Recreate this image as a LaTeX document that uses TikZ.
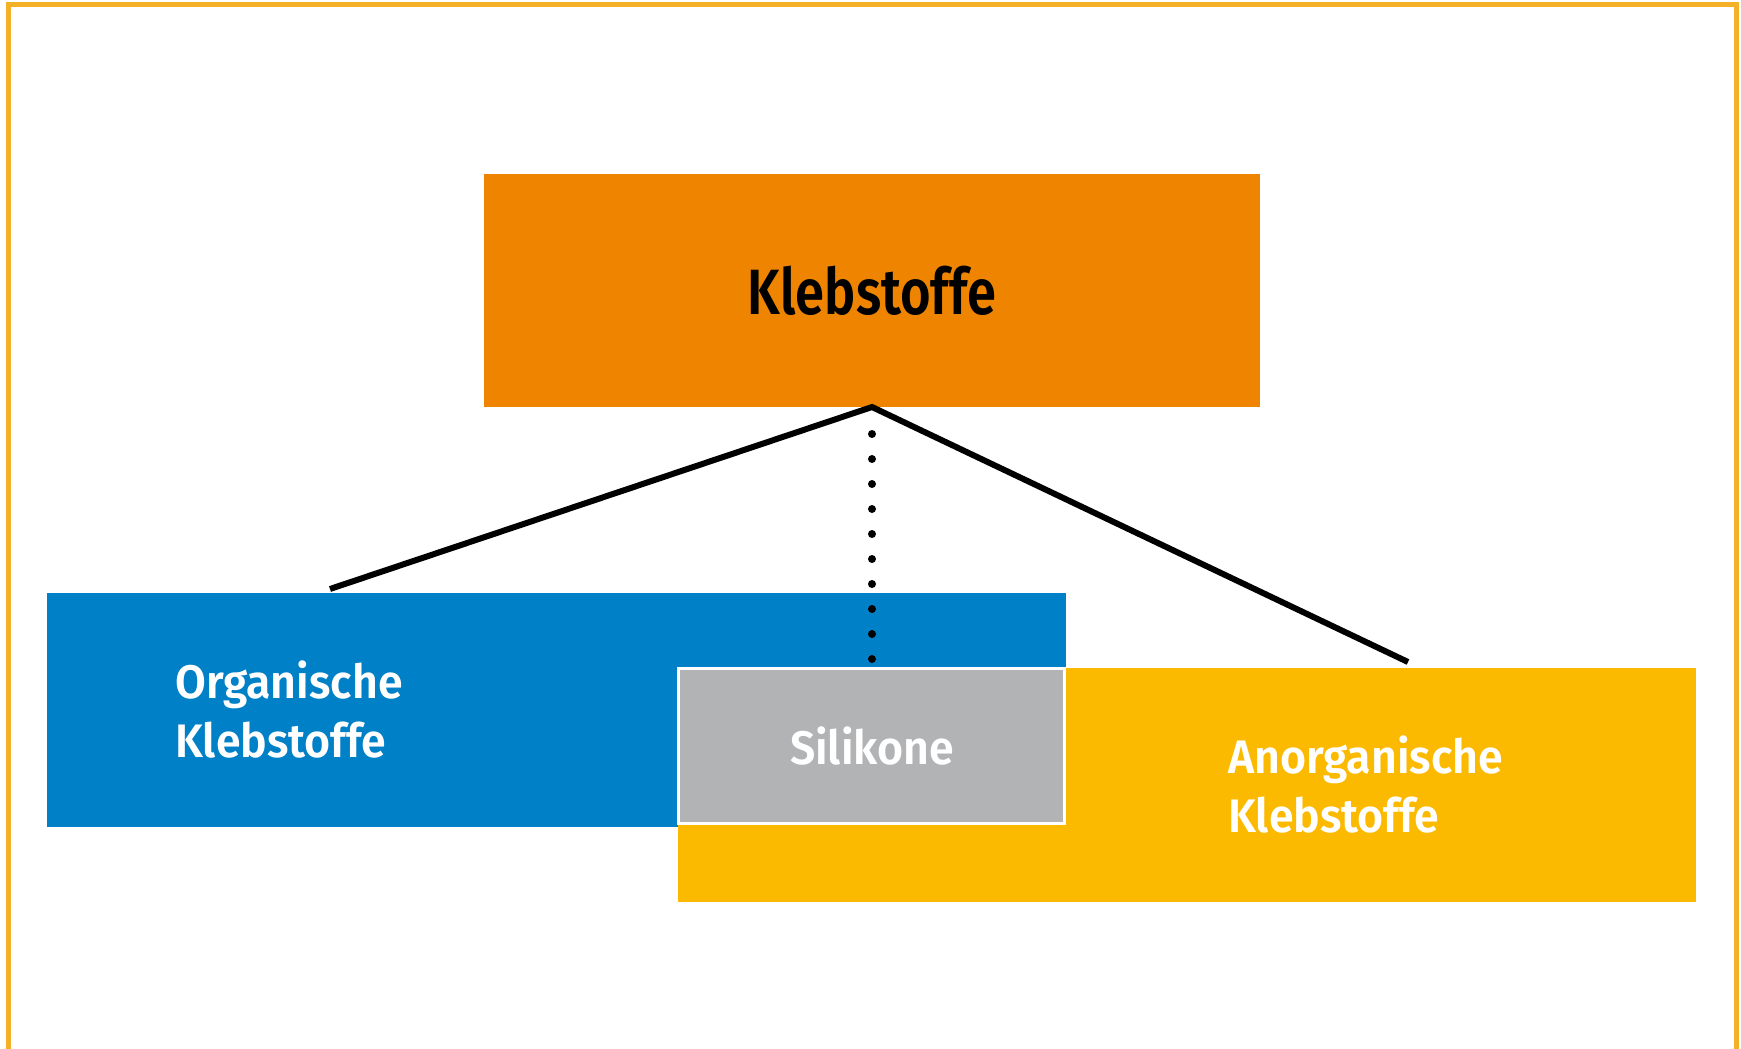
\documentclass[tikz,border=0pt]{standalone}
\usepackage{fontspec}
\newfontfamily\headfont[FakeStretch=0.82, Ligatures={NoCommon}, BoldFont={Fira Sans SemiBold}]{Fira Sans}
\newfontfamily\lblfont[FakeStretch=0.95, Ligatures={NoCommon}, BoldFont={Fira Sans SemiBold}]{Fira Sans}
\definecolor{frameyellow}{RGB}{244,177,40}
\definecolor{headorange}{RGB}{238,132,0}
\definecolor{orgblue}{RGB}{0,128,198}
\definecolor{anorgyellow}{RGB}{251,186,0}
\definecolor{silgray}{RGB}{178,179,181}
\tikzset{
  box/.style={rectangle, inner sep=0pt, outer sep=0pt},
  whitelabel/.style={text=white, font=\lblfont\bfseries\fontsize{47}{59}\selectfont, inner sep=0pt, align=left},
  branch/.style={line width=6pt, black},
  dotline/.style={line width=8pt, line cap=round, dash pattern=on 0pt off 25pt, black},
}
\begin{document}
\begin{tikzpicture}[x=1pt, y=-1pt]
  \useasboundingbox (0,0) rectangle (1741,1049);
  % outer frame, open at the lower page edge
  \draw[frameyellow, line width=5pt] (8.5,1070) -- (8.5,4.5) -- (1736,4.5) -- (1736,1070);

  % boxes
  \node[box, fill=headorange, minimum width=776pt, minimum height=233pt] (top) at (872,290.5) {};
  \node[box, fill=orgblue, minimum width=1019pt, minimum height=234pt] (org) at (556.5,710) {};
  \node[box, fill=anorgyellow, minimum width=1018pt, minimum height=234pt] (anorg) at (1187,785) {};
  \node[box, fill=silgray, draw=white, line width=3pt, minimum width=386pt, minimum height=155pt] (sil) at (871.5,746) {};

  % labels (base anchor of a two-line node sits on the last line)
  \node[inner sep=0pt, anchor=base, font=\headfont\bfseries\fontsize{64}{70}\selectfont] (toplbl) at (872,314) {Klebstoffe};
  \node[whitelabel, anchor=base west] (orglbl) at (175,757) {Organische\\Klebstoffe};
  \node[whitelabel, anchor=base west] (anorglbl) at (1228,832) {Anorganische\\Klebstoffe};
  \node[whitelabel, anchor=base] (sillbl) at (872,764) {Silikone};

  % connectors
  \coordinate (lend) at (330,589);
  \coordinate (rend) at (1408,662);
  \coordinate (dtop) at (872,434);
  \coordinate (dbot) at (872,659);
  \draw[branch] (lend) -- (top.south) -- (rend);
  \draw[dotline] (dtop) -- (dbot);
\end{tikzpicture}
\end{document}
